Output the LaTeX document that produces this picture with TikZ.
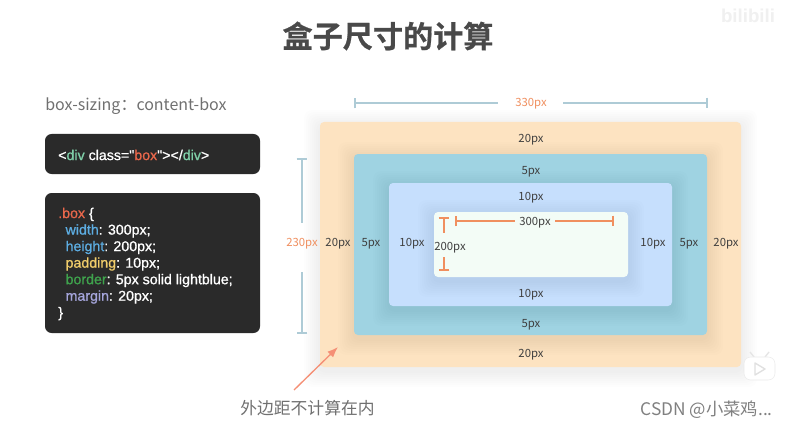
\documentclass[tikz,border=0pt]{standalone}
\usepackage{xcolor}
\usepackage{fontspec}
\setmainfont{Liberation Sans}
\newfontfamily\cjkfont{Noto Sans CJK SC}
\newfontfamily\titlefont[FakeBold=0.6]{Noto Sans CJK SC Bold}
\newfontfamily\labelfont{Noto Sans CJK SC}
\newfontfamily\codefont[FakeBold=0.9]{Liberation Sans}
\usetikzlibrary{arrows.meta,calc,positioning}
\definecolor{Ink}{HTML}{3F3F3F}
\definecolor{Note}{HTML}{707070}
\definecolor{MarginFill}{HTML}{FDE3C1}
\definecolor{BorderFill}{HTML}{9FD3E2}
\definecolor{PaddingFill}{HTML}{C6DFFD}
\definecolor{ContentFill}{HTML}{F3FCF6}
\definecolor{Panel}{HTML}{2A2A2A}
\definecolor{DimBlue}{HTML}{AECBD6}
\definecolor{DimOrange}{HTML}{F08F5F}
\definecolor{TagGreen}{HTML}{7FCFA8}
\definecolor{BoxRed}{HTML}{E8674B}
\definecolor{PropBlue}{HTML}{5DADE2}
\definecolor{PropYellow}{HTML}{F2CE6B}
\definecolor{PropGreen}{HTML}{3FA34D}
\definecolor{PropPurple}{HTML}{A6A6DC}
\definecolor{NoteArrow}{HTML}{F58F75}
\newcommand{\softbox}[5]{%
  \foreach \grow in {2,4,...,16}
    \fill[black,opacity=0.008,rounded corners=6] ($(#1,#2)+(-\grow,-\grow+4)$) rectangle ($(#3,#4)+(\grow,\grow+4)$);
  \fill[#5,rounded corners=3] (#1,#2) rectangle (#3,#4);
}
\begin{document}
\begin{tikzpicture}[
  x=0.75pt,y=-0.75pt,
  label/.style={font=\labelfont\fontsize{8.5}{10}\selectfont,color=Ink,yshift=-1.3pt},
  orangelabel/.style={font=\labelfont\fontsize{8.5}{10}\selectfont,color=DimOrange,yshift=-1.3pt},
  panel/.style={fill=Panel,rounded corners=5},
  code/.style={anchor=north west,align=left,inner sep=0pt,color=white,font=\codefont\fontsize{10.65}{12.4}\selectfont},
  dimblue/.style={DimBlue,line width=1.5pt},
  dimorange/.style={DimOrange,line width=1.6pt},
  tipleft/.style={{Bar[width=8pt,line width=1.4pt]}-},
  tipright/.style={-{Bar[width=8pt,line width=1.4pt]}}
]
\useasboundingbox (0,0) rectangle (786,428);
\fill[white] (0,0) rectangle (786,428);

\node[font=\titlefont\fontsize{22.6}{27}\selectfont,color=Ink!95!white] (title) at (388,36) {盒子尺寸的计算};
\node[font=\bfseries\fontsize{14}{16}\selectfont,color=black!6] (brand) at (748,16) {bilibili};

\node[anchor=west,inner sep=0pt,font=\labelfont\fontsize{12}{15}\selectfont,color=Note] (sizing) at (45,106) {box-sizing：content-box};

\fill[panel] (45,134) rectangle (260,174);
\node[code,anchor=west] (markup) at (58,155) {<\textcolor{TagGreen}{div} class="\textcolor{BoxRed}{box}"></\textcolor{TagGreen}{div}>};
\fill[panel] (45,193) rectangle (260,333);
\node[code] (rules) at (58,207.5) {\textcolor{BoxRed}{.box} \{\\
\hspace*{5.5pt}\textcolor{PropBlue}{width}: 300px;\\
\hspace*{5.5pt}\textcolor{PropBlue}{height}: 200px;\\
\hspace*{5.5pt}\textcolor{PropYellow}{padding}: 10px;\\
\hspace*{5.5pt}\textcolor{PropGreen}{border}: 5px solid lightblue;\\
\hspace*{5.5pt}\textcolor{PropPurple}{margin}: 20px;\\
\}};

% nested boxes
\softbox{320}{122}{741}{367}{MarginFill}
\softbox{354}{154}{707}{335}{BorderFill}
\softbox{389}{183}{672}{306}{PaddingFill}
\softbox{434}{212}{628}{277}{ContentFill}

\node[label] (margintop) at (531,138) {20px};
\node[label] (bordertop) at (531,170) {5px};
\node[label] (paddingtop) at (531,196) {10px};
\node[label] (paddingbottom) at (531,293) {10px};
\node[label] (borderbottom) at (531,323) {5px};
\node[label] (marginbottom) at (531,353) {20px};
\node[label] (marginleft) at (338,242) {20px};
\node[label] (borderleft) at (371,242) {5px};
\node[label] (paddingleft) at (412,242) {10px};
\node[label] (paddingright) at (653,242) {10px};
\node[label] (borderright) at (689,242) {5px};
\node[label] (marginright) at (726,242) {20px};

% outer sizes
\node[orangelabel] (outerwidth) at (531,102) {330px};
\coordinate (outerleft) at (354,103);
\coordinate (outerright) at (708,103);
\draw[dimblue,tipleft] (outerleft) -- (498,103);
\draw[dimblue,tipright] (563,103) -- (outerright);
\node[orangelabel] (outerheight) at (302,242) {230px};
\coordinate (outertop) at (302,158);
\coordinate (outerbottom) at (302,334);
\draw[dimblue,tipleft] (outertop) -- (302,223);
\draw[dimblue,tipright] (302,272) -- (outerbottom);

% content sizes
\node[label] (contentwidth) at (535,221) {300px};
\coordinate (contentleft) at (455,221);
\coordinate (contentright) at (614,221);
\draw[dimorange,tipleft] (contentleft) -- (515,221);
\draw[dimorange,tipright] (555,221) -- (contentright);
\node[label] (contentheight) at (450,246) {200px};
\coordinate (contenttop) at (444,217);
\coordinate (contentbottom) at (444,271);
\draw[dimorange,tipleft] (contenttop) -- (444,233);
\draw[dimorange,tipright] (444,257) -- (contentbottom);

% margin note
\node[anchor=west,inner sep=0pt,font=\cjkfont\fontsize{12.6}{15}\selectfont,color=Note] (note) at (240,408) {外边距不计算在内};
\coordinate (notetail) at (294,390);
\coordinate (notehead) at (338,347);
\draw[-{Latex[length=8pt,width=6pt]},NoteArrow,line width=1pt] (notetail) -- (notehead);

% player icon
\draw[black!10,line width=1pt] (750,352) -- (754,357) (769,352) -- (765,357);
\fill[white,draw=black!8,rounded corners=5] (744,357) rectangle (775,380);
\draw[black!12,line width=1pt,line join=round] (755,363) -- (765,369) -- (755,375) -- cycle;

\node[anchor=east,inner sep=0pt,font=\cjkfont\fontsize{13}{15}\selectfont,color=black!50] (credit) at (773,410) {CSDN @小菜鸡...};
\end{tikzpicture}
\end{document}
